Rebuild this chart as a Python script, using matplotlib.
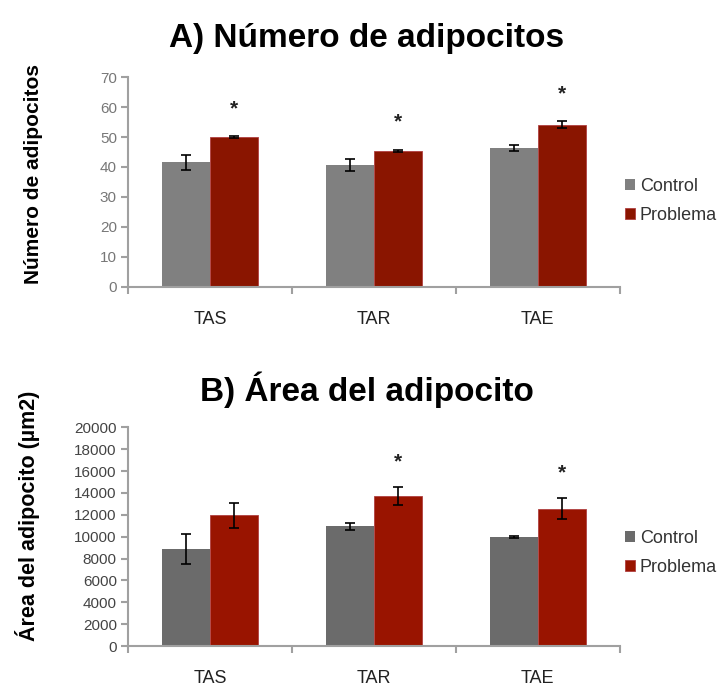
import matplotlib
matplotlib.use("Agg")
import matplotlib.pyplot as plt
import numpy as np

plt.rcParams['font.family'] = ['Liberation Sans', 'DejaVu Sans']

categories = ["TAS", "TAR", "TAE"]
series_names = ["Control", "Problema"]

num_control = [41.5, 40.7, 46.5]
num_control_err = [2.6, 1.9, 1.0]
num_problema = [49.9, 45.4, 54.1]
num_problema_err = [0.3, 0.4, 1.1]
num_sig = [True, True, True]
num_yticks = [0, 10, 20, 30, 40, 50, 60, 70]

area_control = [8850, 10950, 9950]
area_control_err = [1350, 330, 100]
area_problema = [11950, 13700, 12550]
area_problema_err = [1120, 820, 980]
area_sig = [False, True, True]
area_yticks = list(range(0, 20001, 2000))

fig = plt.figure(figsize=(7.19, 6.88), dpi=100)

def draw(ax, ctrl, ctrl_err, prob, prob_err, sig, yticks, c_col, p_col, title, ylabel,
         tick_col, star_off, title_pad, leg_y, ylab_xy, ylab_size):
    x = np.arange(len(categories))
    w = 0.293
    ax.bar(x - w/2, ctrl, w, color=c_col, label=series_names[0], zorder=2)
    ax.bar(x + w/2, prob, w, color=p_col, label=series_names[1], zorder=2,
           edgecolor='#b04040', linewidth=0.6)
    ek = dict(fmt='none', ecolor='black', elinewidth=1.2, capsize=3.5, capthick=1.2, zorder=3)
    ax.errorbar(x - w/2, ctrl, yerr=ctrl_err, **ek)
    ax.errorbar(x + w/2, prob, yerr=prob_err, **ek)
    for xi, p, pe, s in zip(x, prob, prob_err, sig):
        if s:
            ax.annotate('*', xy=(xi + w/2, p + pe), xytext=(0, star_off),
                        textcoords='offset points', ha='center', va='center',
                        fontsize=15, fontweight='bold', color='#222222')
    ax.set_xlim(-0.5, len(categories) - 0.5)
    ax.set_ylim(yticks[0], yticks[-1])
    ax.set_yticks(yticks)
    ax.set_xticks(np.arange(len(categories) + 1) - 0.5)
    ax.set_xticklabels([])
    ax.set_xticks(x, minor=True)
    ax.set_xticklabels(categories, minor=True, fontsize=13, color='#222222')
    ax.tick_params(axis='x', which='minor', length=0, pad=17)
    ax.tick_params(axis='x', which='major', length=5, color='#a0a0a0', width=1.5)
    ax.tick_params(axis='y', length=5, color='#a0a0a0', width=1.5, labelsize=11,
                   labelcolor=tick_col, pad=3)
    for s in ['top', 'right']:
        ax.spines[s].set_visible(False)
    for s in ['left', 'bottom']:
        ax.spines[s].set_color('#a0a0a0')
        ax.spines[s].set_linewidth(1.5)
    ax.set_title(title, fontsize=24, fontweight='bold', pad=title_pad, x=0.485)
    ax.set_ylabel(ylabel, fontsize=ylab_size, fontweight='bold')
    ax.yaxis.set_label_coords(*ylab_xy)
    leg = ax.legend(loc='center left', bbox_to_anchor=(1.011, leg_y), frameon=False,
                    fontsize=13, handlelength=0.55, handleheight=0.55,
                    handletextpad=0.25, labelspacing=0.65, borderpad=0, borderaxespad=0)
    for t in leg.get_texts():
        t.set_color('#333333')

ax1 = fig.add_axes([0.178, 0.583, 0.684, 0.305])
draw(ax1, num_control, num_control_err, num_problema, num_problema_err, num_sig,
     num_yticks, '#808080', '#8a1500', 'A) Número de adipocitos',
     'Número de adipocitos', '#777777', 20, 22, 0.41, (-0.173, 0.538), 15)

ax2 = fig.add_axes([0.178, 0.061, 0.684, 0.318])
draw(ax2, area_control, area_control_err, area_problema, area_problema_err, area_sig,
     area_yticks, '#6b6b6b', '#991400', 'B) Área del adipocito',
     'Área del adipocito (µm2)', '#444444', 18, 19, 0.425, (-0.179, 0.594), 15.5)

fig.savefig('out.png', dpi=100)
